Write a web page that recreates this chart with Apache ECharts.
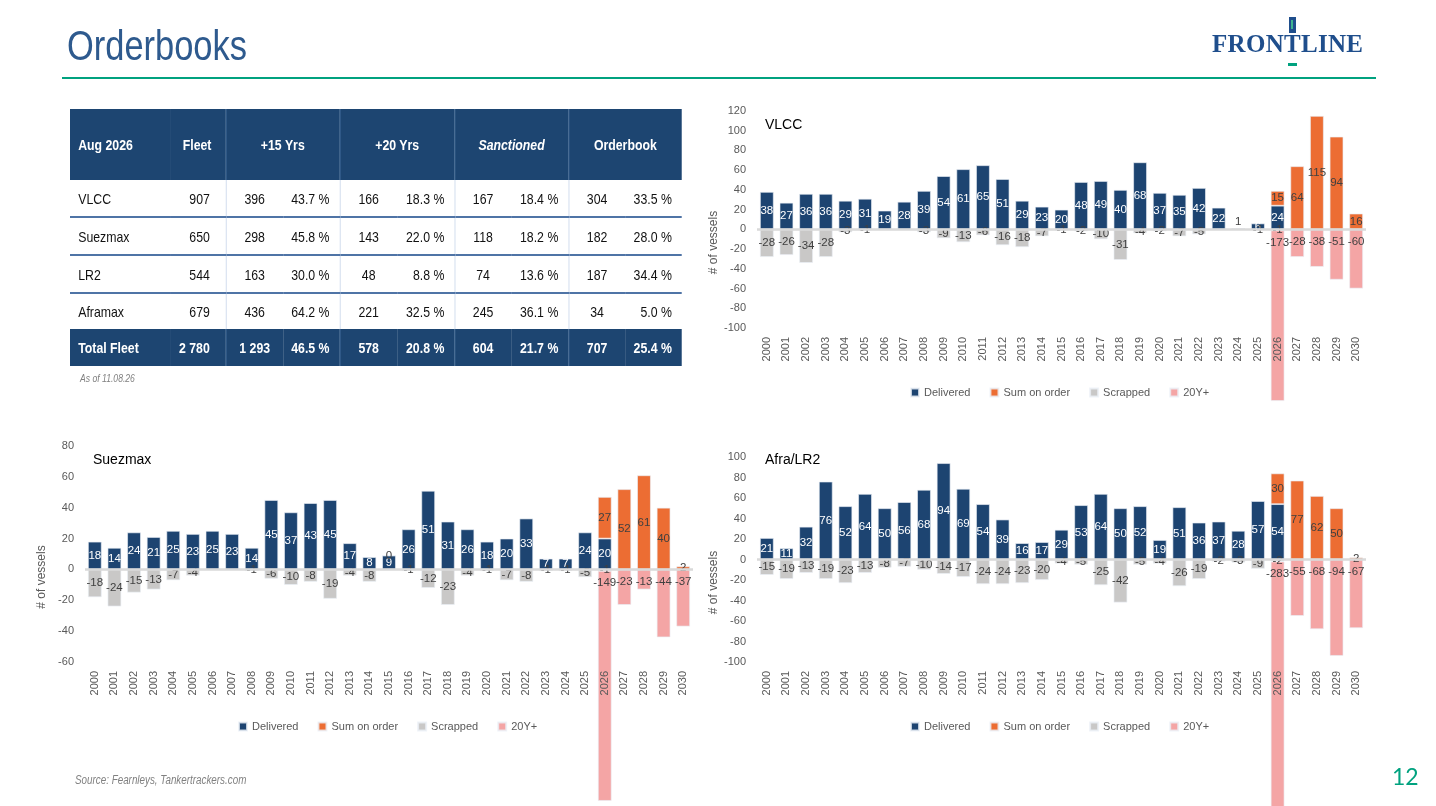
<!doctype html>
<html>
<head>
<meta charset="UTF-8">
<title>Orderbooks</title>
<script src="https://cdn.jsdelivr.net/npm/echarts@6/dist/echarts.min.js"></script>
<style>
  html, body { margin:0; padding:0; background:#fff; }
  body { width:1436px; height:806px; position:relative; overflow:hidden;
         font-family:'Liberation Sans',Arial,sans-serif; }
  #main { position:absolute; left:0; top:0; width:1436px; height:806px; }
  /* the slide uses a narrow sans; squeeze regular Liberation Sans to match */
  .narrow { transform:scaleX(0.82); transform-origin:0 0; }
  .title { position:absolute; left:67px; top:22px; font-size:42px; line-height:48px; color:#2e5a8e; white-space:nowrap; }
  .rule { position:absolute; left:62px; top:77px; width:1314px; height:2px; background:#00a27f; }
  .logo { position:absolute; left:1212px; top:30px; font-family:'Liberation Serif','Times New Roman',serif;
          font-weight:bold; font-size:25px; letter-spacing:0.3px; color:#1f4e8c; }
  .logo-top { position:absolute; left:1289px; top:17px; width:7px; height:16px; background:#1f4e8c; }
  .logo-top i { position:absolute; left:2px; top:3px; width:2px; height:9px; background:#3fb58f; }
  .logo-bot { position:absolute; left:1288px; top:63px; width:9px; height:3px; background:#00a27f; }
  .tablewrap { position:absolute; left:70px; top:109px; }
  table.ob { border-collapse:collapse; table-layout:fixed; width:746px; font-size:15px; color:#111; }
  table.ob td, table.ob th { padding:0; white-space:nowrap; }
  table.ob thead th { background:#1d4571; color:#fff; font-weight:bold; height:71px; text-align:center; }
  table.ob thead th.l { text-align:left; padding-left:10px; }
  table.ob thead th.r { text-align:right; padding-right:17px; }
  table.ob thead th.g { border-left:1px solid #3d6695; }
  table.ob thead th.it { font-style:italic; }
  table.ob tbody td { height:36px; border-bottom:2px solid #4f74a6; }
  table.ob tbody tr.last td { border-bottom:none; height:35px; }
  table.ob td.l { text-align:left; padding-left:10px; }
  table.ob td.f { text-align:right; padding-right:19px; }
  table.ob td.n { text-align:center; border-left:1px solid #c9d6ea; }
  table.ob td.p { text-align:right; padding-right:12px; }
  table.ob tfoot td { background:#1d4571; color:#fff; font-weight:bold; height:37px; }
  table.ob tfoot td.n { border-left:1px solid #3d6695; }
  .asof { position:absolute; left:80px; top:372px; font-size:10.5px; font-style:italic; color:#808080; white-space:nowrap; }
  .source { position:absolute; left:75px; top:773px; font-size:12px; font-style:italic; color:#808080; white-space:nowrap; }
  .page { position:absolute; left:1392px; top:762px; font-family:Lato,'Open Sans',sans-serif; font-size:23px; color:#00a27f; }
</style>
</head>
<body>
<div id="main"></div>
<div class="title narrow">Orderbooks</div>
<div class="rule"></div>
<div class="logo-top"><i></i></div>
<div class="logo">FRONTLINE</div>
<div class="logo-bot"></div>
<div class="tablewrap narrow">
<table class="ob" id="ob">
  <colgroup>
    <col style="width:122px"><col style="width:68px">
    <col style="width:70px"><col style="width:69px">
    <col style="width:70px"><col style="width:70px">
    <col style="width:69px"><col style="width:70px">
    <col style="width:69px"><col style="width:69px">
  </colgroup>
  <thead>
    <tr>
      <th class="l">Aug 2026</th><th class="r">Fleet</th>
      <th class="g" colspan="2">+15 Yrs</th>
      <th class="g" colspan="2">+20 Yrs</th>
      <th class="g it" colspan="2">Sanctioned</th>
      <th class="g" colspan="2">Orderbook</th>
    </tr>
  </thead>
  <tbody id="obBody"></tbody>
  <tfoot id="obFoot"></tfoot>
</table>
</div>
<div class="asof narrow">As of 11.08.26</div>
<div class="source narrow">Source: Fearnleys, Tankertrackers.com</div>
<div class="page">12</div>

<script type="text/javascript">
// ---- table data ----
var tableSegments = ['VLCC', 'Suezmax', 'LR2', 'Aframax'];
var tableFleet = ['907', '650', '544', '679'];
var tablePlus15 = ['396', '298', '163', '436'];
var tablePlus15Pct = ['43.7 %', '45.8 %', '30.0 %', '64.2 %'];
var tablePlus20 = ['166', '143', '48', '221'];
var tablePlus20Pct = ['18.3 %', '22.0 %', '8.8 %', '32.5 %'];
var tableSanctioned = ['167', '118', '74', '245'];
var tableSanctionedPct = ['18.4 %', '18.2 %', '13.6 %', '36.1 %'];
var tableOrderbook = ['304', '182', '187', '34'];
var tableOrderbookPct = ['33.5 %', '28.0 %', '34.4 %', '5.0 %'];
var tableTotal = ['Total Fleet', '2 780', '1 293', '46.5 %', '578', '20.8 %', '604', '21.7 %', '707', '25.4 %'];

// ---- chart data ----
var years = ['2000','2001','2002','2003','2004','2005','2006','2007','2008','2009',
             '2010','2011','2012','2013','2014','2015','2016','2017','2018','2019',
             '2020','2021','2022','2023','2024','2025','2026','2027','2028','2029','2030'];
var seriesNames = ['Delivered', 'Sum on order', 'Scrapped', '20Y+'];

var vlccDelivered = [38,27,36,36,29,31,19,28,39,54,61,65,51,29,23,20,48,49,40,68,37,35,42,22,1,6,24,null,null,null,null];
var vlccOnOrder = [null,null,null,null,null,null,null,null,null,null,null,null,null,null,null,null,null,null,null,null,null,null,null,null,null,null,15,64,115,94,16];
var vlccScrapped = [-28,-26,-34,-28,-3,-1,null,null,-3,-9,-13,-6,-16,-18,-7,-1,-2,-10,-31,-4,-2,-7,-5,null,null,-1,-1,null,null,null,null];
var vlcc20y = [null,null,null,null,null,null,null,null,null,null,null,null,null,null,null,null,null,null,null,null,null,null,null,null,null,null,-173,-28,-38,-51,-60];

var suezDelivered = [18,14,24,21,25,23,25,23,14,45,37,43,45,17,8,9,26,51,31,26,18,20,33,7,7,24,20,null,null,null,null];
var suezOnOrder = [null,null,null,null,null,null,null,null,null,null,null,null,null,null,null,0,null,null,null,null,null,null,null,null,null,null,27,52,61,40,2];
var suezScrapped = [-18,-24,-15,-13,-7,-4,null,null,-1,-6,-10,-8,-19,-4,-8,null,-1,-12,-23,-4,-1,-7,-8,-1,-1,-5,-1,null,null,null,null];
var suez20y = [null,null,null,null,null,null,null,null,null,null,null,null,null,null,null,null,null,null,null,null,null,null,null,null,null,null,-149,-23,-13,-44,-37];

var afraDelivered = [21,11,32,76,52,64,50,56,68,94,69,54,39,16,17,29,53,64,50,52,19,51,36,37,28,57,54,null,null,null,null];
var afraOnOrder = [null,null,null,null,null,null,null,null,null,null,null,null,null,null,null,null,null,null,null,null,null,null,null,null,null,null,30,77,62,50,2];
var afraScrapped = [-15,-19,-13,-19,-23,-13,-8,-7,-10,-14,-17,-24,-24,-23,-20,-4,-5,-25,-42,-5,-4,-26,-19,-2,-3,-9,-2,null,null,null,null];
var afra20y = [null,null,null,null,null,null,null,null,null,null,null,null,null,null,null,null,null,null,null,null,null,null,null,null,null,null,-283,-55,-68,-94,-67];

// ---- build table ----
var body = document.getElementById('obBody');
var rowsHtml = '';
for (var i = 0; i < tableSegments.length; i++) {
  rowsHtml += '<tr' + (i === tableSegments.length - 1 ? ' class="last"' : '') + '>' +
    '<td class="l">' + tableSegments[i] + '</td><td class="f">' + tableFleet[i] + '</td>' +
    '<td class="n">' + tablePlus15[i] + '</td><td class="p">' + tablePlus15Pct[i] + '</td>' +
    '<td class="n">' + tablePlus20[i] + '</td><td class="p">' + tablePlus20Pct[i] + '</td>' +
    '<td class="n">' + tableSanctioned[i] + '</td><td class="p">' + tableSanctionedPct[i] + '</td>' +
    '<td class="n">' + tableOrderbook[i] + '</td><td class="p">' + tableOrderbookPct[i] + '</td></tr>';
}
body.innerHTML = rowsHtml;
var t = tableTotal;
document.getElementById('obFoot').innerHTML = '<tr>' +
  '<td class="l">' + t[0] + '</td><td class="f">' + t[1] + '</td>' +
  '<td class="n">' + t[2] + '</td><td class="p">' + t[3] + '</td>' +
  '<td class="n">' + t[4] + '</td><td class="p">' + t[5] + '</td>' +
  '<td class="n">' + t[6] + '</td><td class="p">' + t[7] + '</td>' +
  '<td class="n">' + t[8] + '</td><td class="p">' + t[9] + '</td></tr>';

// ---- chart ----
var FONT = "'Liberation Sans',Arial,sans-serif";
var GREY = '#595959';
var colors = ['#1d4471', '#ec6d33', '#c9c8c7', '#f4a5a5'];

var charts = [
  { title: 'VLCC', data: [vlccDelivered, vlccOnOrder, vlccScrapped, vlcc20y], min: -100, max: 120,
    grid: { left: 757, top: 111, width: 609, height: 217 }, titlePos: [760, 113], legendPos: [905, 382] },
  { title: 'Suezmax', data: [suezDelivered, suezOnOrder, suezScrapped, suez20y], min: -60, max: 80,
    grid: { left: 85, top: 446, width: 608, height: 216 }, titlePos: [88, 448], legendPos: [233, 716] },
  { title: 'Afra/LR2', data: [afraDelivered, afraOnOrder, afraScrapped, afra20y], min: -100, max: 100,
    grid: { left: 757, top: 457, width: 609, height: 205 }, titlePos: [760, 448], legendPos: [905, 716] }
];

function valueLabel(p) {
  return p.value == null ? '' : String(p.value);
}

// tiny delivered bars get their label above in dark text
function deliveredData(arr) {
  return arr.map(function (v) {
    if (v != null && v < 4) return { value: v, label: { position: 'top', color: '#404040', distance: 1 } };
    return v;
  });
}

var option = {
  animation: false,
  textStyle: { fontFamily: FONT },
  title: [], legend: [], grid: [], xAxis: [], yAxis: [], series: []
};

charts.forEach(function (c, i) {
  option.title.push({ text: c.title, left: c.titlePos[0], top: c.titlePos[1],
    textStyle: { fontFamily: FONT, fontSize: 14, fontWeight: 'normal', color: '#000' } });
  option.legend.push({ data: seriesNames, left: c.legendPos[0], top: c.legendPos[1],
    icon: 'rect', itemWidth: 8, itemHeight: 8, itemGap: 19, selectedMode: false,
    textStyle: { fontFamily: FONT, fontSize: 11, color: GREY } });
  option.grid.push(c.grid);
  option.xAxis.push({ type: 'category', gridIndex: i, data: years, z: 5,
    axisLine: { show: false }, axisTick: { show: false },
    axisLabel: { rotate: 90, interval: 0, margin: 9, fontFamily: FONT, fontSize: 11, color: GREY } });
  option.yAxis.push({ type: 'value', gridIndex: i, min: c.min, max: c.max, interval: 20,
    splitLine: { show: false }, axisLine: { show: false }, axisTick: { show: false },
    axisLabel: { margin: 11, fontFamily: FONT, fontSize: 11, color: GREY },
    name: '# of vessels', nameLocation: 'middle', nameRotate: 90, nameGap: 37,
    nameTextStyle: { fontFamily: FONT, fontSize: 12, color: GREY, padding: [0, 46, 0, 0] } });

  seriesNames.forEach(function (name, k) {
    var s = {
      name: name, type: 'bar', xAxisIndex: i, yAxisIndex: i, stack: 'st' + i,
      barCategoryGap: '30%', clip: false,
      itemStyle: { color: colors[k], borderColor: 'rgba(235,240,246,0.8)', borderWidth: 0.8 },
      label: { show: true, position: 'inside', fontSize: 11.5, color: k === 0 ? '#fff' : '#404040',
               formatter: valueLabel },
      data: k === 0 ? deliveredData(c.data[k]) : c.data[k]
    };
    if (k === 3) { s.label.position = 'insideTop'; s.label.distance = 6; }
    if (k === 0) {
      s.markLine = { silent: true, symbol: 'none', label: { show: false },
        lineStyle: { color: '#d9d9d9', width: 2.5, type: 'solid' }, data: [{ yAxis: 0 }] };
    }
    option.series.push(s);
  });
});

var chart = echarts.init(document.getElementById('main'));
chart.setOption(option);
</script>
</body>
</html>
